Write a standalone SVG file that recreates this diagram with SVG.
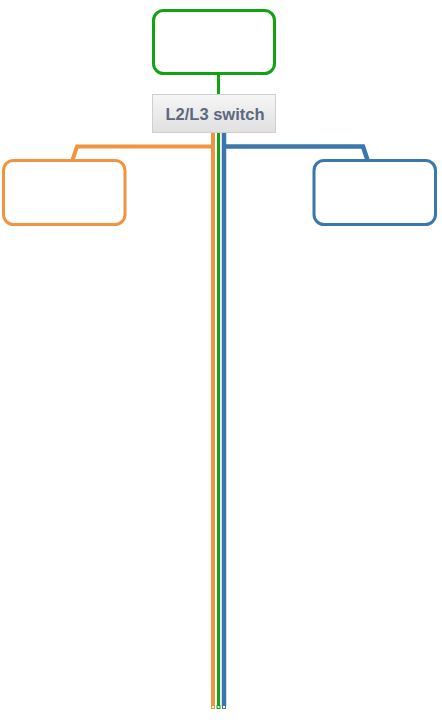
<svg xmlns="http://www.w3.org/2000/svg" width="442" height="720" viewBox="0 0 442 720">
<defs>
<linearGradient id="sw" x1="0" y1="0" x2="0" y2="1">
<stop offset="0" stop-color="#f6f6f6"/>
<stop offset="1" stop-color="#e0e0e0"/>
</linearGradient>
<style>
.box{fill:#fff;stroke-width:3}
.ln{fill:none;stroke-linejoin:miter}
.g{stroke:#12a312}
.o{stroke:#f09440}
.b{stroke:#3a77ad}
.end{fill:#fff;stroke-width:1}
</style>
</defs>
<rect width="442" height="720" fill="#fff"/>
<g id="connectors">
<path class="ln g" d="M218.5 74 V94" stroke-width="3"/>
<path class="ln o" d="M213 132 V706 M213 146.5 H77 L72.5 160" stroke-width="4"/>
<path class="ln g" d="M218.5 132 V706" stroke-width="3"/>
<path class="ln b" d="M224 132 V706 M224 146.5 H363 L367.5 160" stroke-width="4.5"/>
<rect class="end o" x="211.5" y="705.5" width="3" height="3"/>
<rect class="end g" x="217" y="705.5" width="3" height="3"/>
<rect class="end b" x="222.5" y="705.5" width="3" height="3"/>
</g>
<g id="top">
<rect class="box g" x="153.5" y="10.5" width="121" height="63" rx="10"/>
</g>
<g id="switch">
<rect x="152.5" y="94.5" width="123" height="38" fill="url(#sw)" stroke="#cfcfcf" stroke-width="1"/>
<text x="215" y="119.5" text-anchor="middle" font-family="Liberation Sans, Arial, sans-serif" font-size="16.5" font-weight="bold" fill="#5b6880">L2/L3 switch</text>
</g>
<g id="left">
<rect class="box o" x="3.5" y="160.5" width="121.5" height="64" rx="10"/>
</g>
<g id="right">
<rect class="box b" x="314" y="160.5" width="121.5" height="64" rx="10"/>
</g>
</svg>
